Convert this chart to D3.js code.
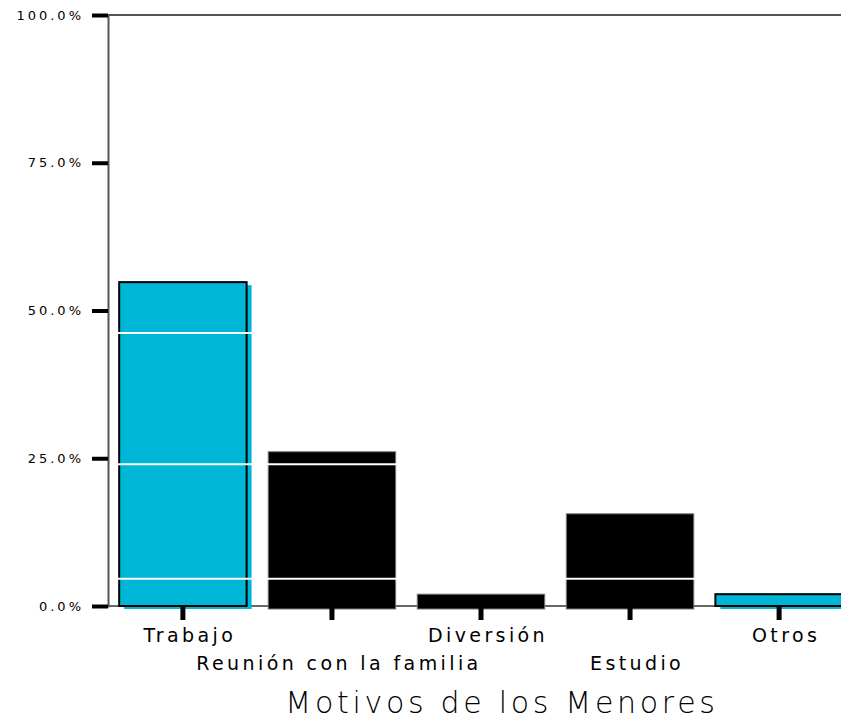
<!DOCTYPE html>
<html>
<head>
<meta charset="utf-8">
<script src="https://cdnjs.cloudflare.com/ajax/libs/d3/7.8.5/d3.min.js"></script>
<style>
  body { margin: 0; background: #fff; }
  svg { display: block; }
</style>
</head>
<body>
<svg id="chart" width="841" height="719"></svg>
<script>
// Data
const categories = ["Trabajo", "Reunión con la familia", "Diversión", "Estudio", "Otros"];
const percents = [54.8, 26.1, 2.0, 15.6, 2.0];
const highlighted = ["Trabajo", "Otros"];
const yTicks = [0, 25, 50, 75, 100];
const whiteLines = [46.2, 24.0, 4.6];

const svg = d3.select("#chart");

const x = d3.scaleBand()
    .domain(categories)
    .range([108, 854])
    .paddingInner(0.145)
    .paddingOuter(0.075);

const y = d3.scaleLinear()
    .domain([0, 100])
    .range([606, 15]);

const cyan = "#00b6d6";
const isHi = d => highlighted.includes(d);

// frame lines
svg.append("line")
    .attr("x1", 108).attr("x2", 841)
    .attr("y1", y(100)).attr("y2", y(100))
    .attr("stroke", "#555").attr("stroke-width", 2);
svg.append("line")
    .attr("x1", 108).attr("x2", 841)
    .attr("y1", y(0)).attr("y2", y(0))
    .attr("stroke", "#666").attr("stroke-width", 2);

// cyan "shadow" under highlighted bars
svg.selectAll("rect.shadow")
    .data(categories.filter(isHi))
    .enter()
    .append("rect")
    .attr("class", "shadow")
    .attr("x", d => x(d) + 5)
    .attr("y", d => y(percents[categories.indexOf(d)]) + 3)
    .attr("width", x.bandwidth())
    .attr("height", d => y(0) - y(percents[categories.indexOf(d)]))
    .attr("fill", cyan);

// bars
svg.selectAll("rect.bar")
    .data(categories)
    .enter()
    .append("rect")
    .attr("class", "bar")
    .attr("x", d => x(d))
    .attr("y", (d, i) => y(percents[i]))
    .attr("width", x.bandwidth())
    .attr("height", (d, i) => y(0) - y(percents[i]) + (isHi(d) ? 0 : 3))
    .attr("fill", d => isHi(d) ? cyan : "#000")
    .attr("stroke", d => isHi(d) ? "#000" : "#777")
    .attr("stroke-width", d => isHi(d) ? 2 : 1);

// white reference lines over bars
svg.selectAll("line.ref")
    .data(whiteLines)
    .enter()
    .append("line")
    .attr("class", "ref")
    .attr("x1", 110).attr("x2", 841)
    .attr("y1", d => y(d)).attr("y2", d => y(d))
    .attr("stroke", "#fff").attr("stroke-width", 2);

// y axis
const yAxis = d3.axisLeft(y)
    .tickValues(yTicks)
    .tickSize(16)
    .tickPadding(8)
    .tickFormat(d => d.toFixed(1) + "%");

const gy = svg.append("g")
    .attr("transform", "translate(108,0)")
    .call(yAxis);
gy.select(".domain").attr("stroke", "#555").attr("stroke-width", 2);
gy.selectAll(".tick line").attr("stroke", "#000").attr("stroke-width", 4);
gy.selectAll(".tick text")
    .attr("font-family", "DejaVu Sans")
    .attr("font-size", 13)
    .attr("letter-spacing", 3)
    .attr("fill", "#000");

// x axis
const xAxis = d3.axisBottom(x)
    .tickSize(14)
    .tickPadding(0)
    .tickSizeOuter(0);

const gx = svg.append("g")
    .attr("transform", "translate(0,606)")
    .call(xAxis);
gx.select(".domain").remove();
gx.selectAll(".tick line").attr("stroke", "#000").attr("stroke-width", 5);
gx.selectAll(".tick text")
    .attr("font-family", "DejaVu Sans")
    .attr("font-size", 19)
    .attr("letter-spacing", 3.4)
    .attr("fill", "#000")
    .attr("dy", null)
    .attr("dx", 7)
    .attr("y", (d, i) => i % 2 === 0 ? 36 : 64);

// axis title
svg.append("text")
    .attr("x", 502)
    .attr("y", 713)
    .attr("text-anchor", "middle")
    .attr("font-family", "DejaVu Sans")
    .attr("font-weight", 300)
    .attr("font-size", 30)
    .attr("letter-spacing", 3.7)
    .attr("fill", "#000")
    .text("Motivos de los Menores");
</script>
</body>
</html>
